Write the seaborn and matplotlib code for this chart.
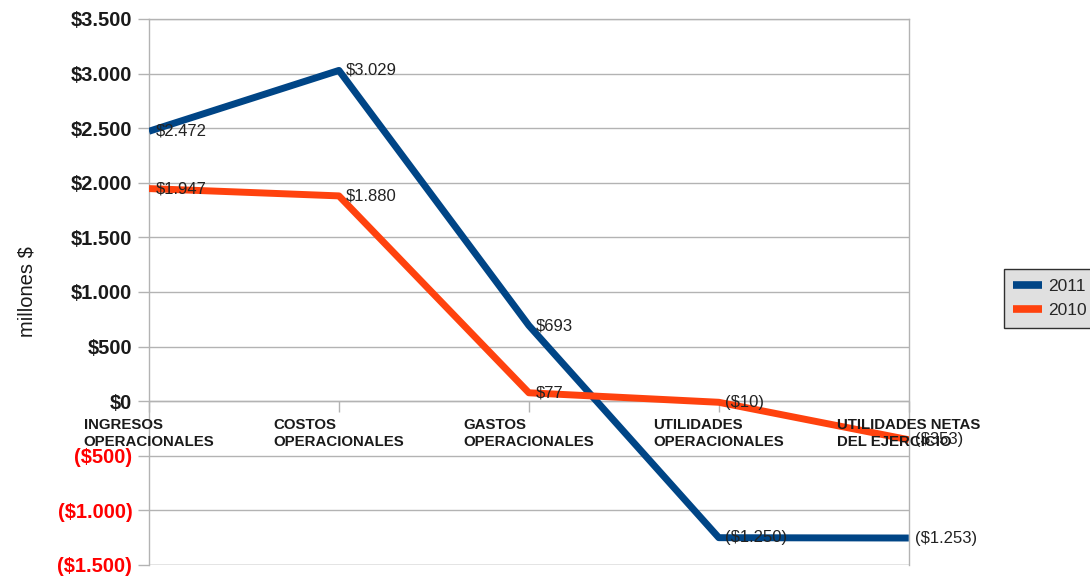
import pandas as pd
import numpy as np
import matplotlib.pyplot as plt
import seaborn as sns

categories = ['INGRESOS\nOPERACIONALES', 'COSTOS\nOPERACIONALES', 'GASTOS\nOPERACIONALES',
              'UTILIDADES\nOPERACIONALES', 'UTILIDADES NETAS\nDEL EJERCICIO']
values_2011 = [2472, 3029, 693, -1250, -1253]
values_2010 = [1947, 1880, 77, -10, -353]
yticks = [3500, 3000, 2500, 2000, 1500, 1000, 500, 0, -500, -1000, -1500]
colors = {'2011': '#004586', '2010': '#ff420e'}


def money(v):
    s = f"${abs(v):,.0f}".replace(',', '.')
    return f"({s})" if v < 0 else s


df = pd.DataFrame({
    'pos': list(range(len(categories))) * 2,
    'valor': values_2011 + values_2010,
    'serie': ['2011'] * len(categories) + ['2010'] * len(categories),
})

sns.set_style('white')
plt.rcParams['font.family'] = ['Liberation Sans', 'DejaVu Sans']

fig = plt.figure(figsize=(10.9, 5.79), dpi=100)
ax = fig.add_axes([0.1367, 0.0242, 0.697, 0.9430])

sns.lineplot(data=df, x='pos', y='valor', hue='serie', palette=colors, linewidth=5,
             ax=ax, legend=False, zorder=3, solid_capstyle='butt')

# etiquetas de datos
for vals in (values_2011, values_2010):
    for i, v in enumerate(vals):
        ax.text(i + 0.035, v, money(v), fontsize=12, color='#222222', va='center', ha='left', zorder=4)

ax.set_xlim(0, len(categories) - 1)
ax.set_ylim(-1500, 3500)
ax.set_yticks(yticks)
ax.set_yticklabels([money(v) for v in yticks], fontsize=14.5, fontweight='bold')
for lbl, v in zip(ax.get_yticklabels(), yticks):
    lbl.set_color('red' if v < 0 else '#1a1a1a')
ax.yaxis.grid(True, color='#b3b3b3', linewidth=1)
ax.tick_params(axis='y', length=8, color='#b3b3b3', width=1, pad=4, left=True)

ax.set_xticks(range(len(categories)))
ax.set_xticklabels([])
ax.tick_params(axis='x', length=8, color='#b3b3b3', width=1, bottom=True, direction='out')
ax.spines['bottom'].set_position(('data', 0))
for sp in ax.spines.values():
    sp.set_color('#b3b3b3')
    sp.set_linewidth(1)
ax.spines['bottom'].set_visible(False)
ax.axhline(0, color='#b3b3b3', linewidth=1, zorder=1)
ax.axhline(-1500, color='#b3b3b3', linewidth=1, zorder=1)

for i, c in enumerate(categories):
    ax.text(i, -150, c, fontsize=10.8, fontweight='bold', color='#1a1a1a', linespacing=1.3,
            ha='center', va='top', multialignment='left', zorder=5)

ax.set_xlabel('')
ax.set_ylabel('millones $', fontsize=14.5, color='#1a1a1a', labelpad=15)

handles = [plt.Line2D([], [], color=colors[k], linewidth=5.5, solid_capstyle='butt') for k in ['2011', '2010']]
leg = fig.legend(handles, ['2011', '2010'], loc='center left', bbox_to_anchor=(0.921, 0.4845),
                 fontsize=12.5, frameon=True, fancybox=False, handlelength=1.65, handletextpad=0.35,
                 borderpad=0.55, labelspacing=0.5, borderaxespad=0)
leg.get_frame().set_facecolor('#d9d9d9')
leg.get_frame().set_edgecolor('#000000')
leg.get_frame().set_linewidth(1)

fig.savefig('out.png', dpi=100)
